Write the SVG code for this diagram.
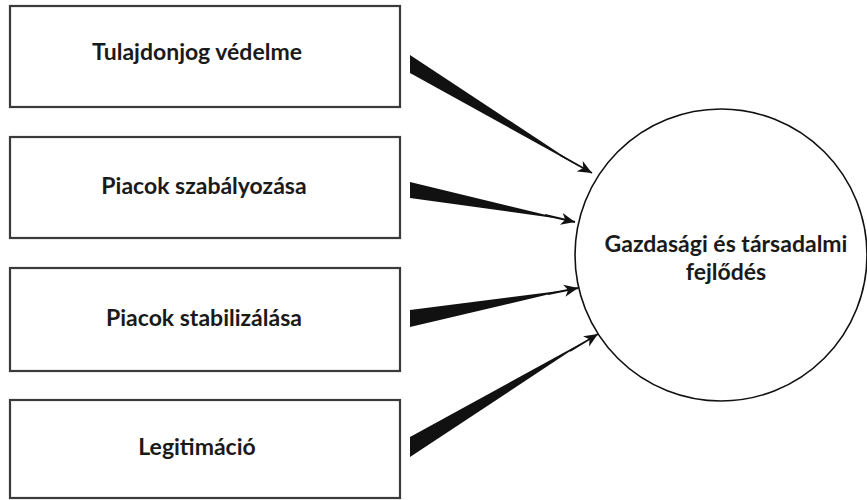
<svg xmlns="http://www.w3.org/2000/svg" width="867" height="500" viewBox="0 0 867 500">
<style>
.box{fill:#fff;stroke:#3a3a3a;stroke-width:2.2}
.lbl{font-family:Lato,"Liberation Sans",sans-serif;font-weight:700;font-size:23px;fill:#1a1a1a;text-anchor:middle}
.wedge{fill:#111}
.shaft{stroke:#111;stroke-width:1.8;fill:none}
</style>
<defs>
<marker id="ah" markerUnits="userSpaceOnUse" markerWidth="16" markerHeight="14" refX="14" refY="6" orient="auto" viewBox="0 0 16 12">
<path d="M0,0 L14,6 L0,12 L4,6 z" fill="#111"/>
</marker>
</defs>
<rect width="867" height="500" fill="#fff"/>
<g id="node-tulajdonjog">
<rect class="box" x="10" y="6" width="390" height="101"/>
<text class="lbl" x="197" y="60">Tulajdonjog védelme</text>
</g>
<g id="node-szabalyozas">
<rect class="box" x="10" y="137" width="390" height="101"/>
<text class="lbl" x="204" y="194">Piacok szabályozása</text>
</g>
<g id="node-stabilizalas">
<rect class="box" x="10" y="268" width="390" height="103"/>
<text class="lbl" x="204" y="326">Piacok stabilizálása</text>
</g>
<g id="node-legitimacio">
<rect class="box" x="10" y="400" width="390" height="98"/>
<text class="lbl" x="197" y="455">Legitimáció</text>
</g>
<g id="node-fejlodes">
<circle cx="721" cy="255" r="146" fill="#fff" stroke="#111" stroke-width="1.6"/>
<text class="lbl" x="726" y="252">Gazdasági és társadalmi</text>
<text class="lbl" x="726" y="280">fejlődés</text>
</g>
<g id="connectors">
<polygon class="wedge" points="410,55 410,73 580,167"/>
<line class="shaft" x1="560" y1="155" x2="592" y2="173" marker-end="url(#ah)"/>
<polygon class="wedge" points="410,182 410,198 565,219.5"/>
<line class="shaft" x1="545" y1="215" x2="575" y2="222" marker-end="url(#ah)"/>
<polygon class="wedge" points="410,310 410,327 567,290"/>
<line class="shaft" x1="548" y1="294" x2="578" y2="288" marker-end="url(#ah)"/>
<polygon class="wedge" points="410,437 410,457 587,340"/>
<line class="shaft" x1="570" y1="351" x2="598" y2="334" marker-end="url(#ah)"/>
</g>
</svg>
